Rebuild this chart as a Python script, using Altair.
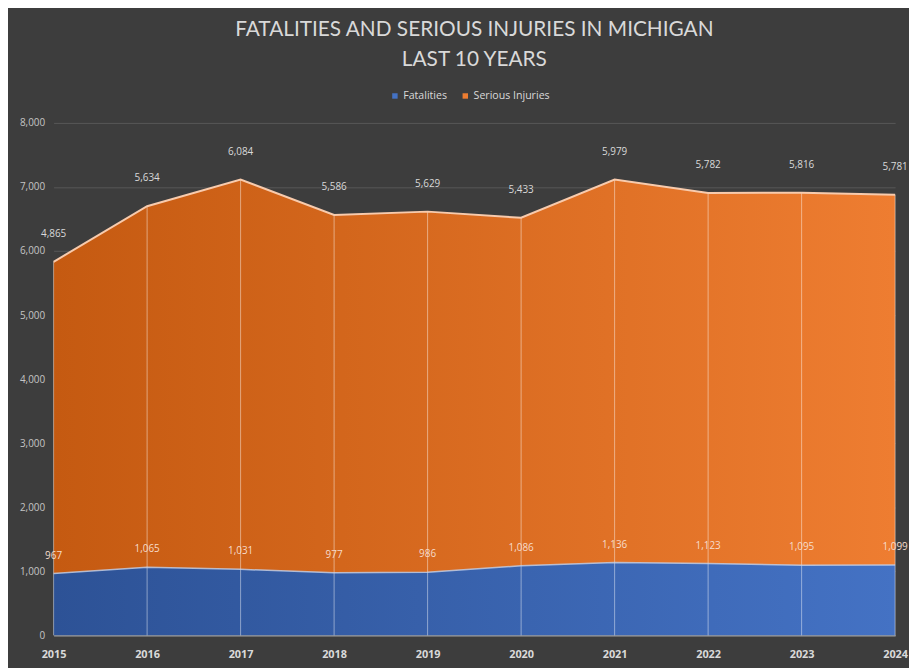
import altair as alt
import pandas as pd

years = [2015, 2016, 2017, 2018, 2019, 2020, 2021, 2022, 2023, 2024]
fatalities = [967, 1065, 1031, 977, 986, 1086, 1136, 1123, 1095, 1099]
serious_injuries = [4865, 5634, 6084, 5586, 5629, 5433, 5979, 5782, 5816, 5781]
y_ticks = [0, 1000, 2000, 3000, 4000, 5000, 6000, 7000, 8000]
series_names = ["Fatalities", "Serious Injuries"]

df = pd.DataFrame({"year": years, "Fatalities": fatalities, "Serious": serious_injuries})

blue_grad = alt.Gradient(
    gradient="linear",
    stops=[alt.GradientStop(color="#2d5296", offset=0), alt.GradientStop(color="#4472c4", offset=1)],
    x1=0, x2=1, y1=0, y2=0,
)
orange_grad = alt.Gradient(
    gradient="linear",
    stops=[alt.GradientStop(color="#c55a11", offset=0), alt.GradientStop(color="#ee7d31", offset=1)],
    x1=0, x2=1, y1=0, y2=0,
)

base = alt.Chart(df).transform_calculate(
    total="datum.Fatalities + datum.Serious", zero="0"
)

x_enc = alt.X(
    "year:Q",
    scale=alt.Scale(domain=[2015, 2024], nice=False, zero=False),
    axis=alt.Axis(
        title=None, values=years, labelExpr="'' + datum.value", labelFlush=False, labelOverlap=False,
        labelFontWeight="bold", labelFontSize=11, labelColor="#d9d9d9", labelFont="Open Sans",
        grid=False, ticks=False, domain=True, domainColor="#9a9a9a", domainWidth=1.5, labelPadding=13,
    ),
)
y_scale = alt.Scale(domain=[0, 8000], nice=False)
y_axis = alt.Axis(
    title=None, values=y_ticks, labelExpr="format(datum.value, ',')", labelFontSize=10,
    labelColor="#c4c4c4", labelFont="Open Sans", grid=True, gridColor="#585858", gridWidth=1,
    ticks=False, domain=False, labelPadding=9,
)

area_fat = base.mark_area(color=blue_grad).encode(
    x=x_enc, y=alt.Y("Fatalities:Q", scale=y_scale, axis=y_axis)
)
area_si = base.mark_area(color=orange_grad).encode(
    x="year:Q", y="total:Q", y2="Fatalities:Q"
)
rules = base.mark_rule(color="#ffffff", opacity=0.45, strokeWidth=1).encode(
    x="year:Q", y="zero:Q", y2="total:Q"
)
line_total = base.mark_line(color="#f8cbad", strokeWidth=2).encode(x="year:Q", y="total:Q")
line_fat = base.mark_line(color="#c5d3ee", strokeWidth=1.5, opacity=0.8).encode(x="year:Q", y="Fatalities:Q")

text_si = base.mark_text(dy=-28, fontSize=10, color="#d9d9d9", font="Open Sans").encode(
    x="year:Q", y="total:Q", text=alt.Text("Serious:Q", format=",")
)
text_fat = base.mark_text(dy=-18, fontSize=10, color="#f6dccb", font="Open Sans").encode(
    x="year:Q", y="Fatalities:Q", text=alt.Text("Fatalities:Q", format=",")
)

legend_df = pd.DataFrame({"series": series_names})
legend_layer = alt.Chart(legend_df).mark_square(opacity=0).encode(
    x=alt.value(0),
    y=alt.value(0),
    color=alt.Color(
        "series:N",
        scale=alt.Scale(domain=series_names, range=["#4472c4", "#ed7d31"]),
        legend=alt.Legend(
            title=None, orient="none", direction="horizontal", legendX=339, legendY=-33,
            symbolType="square", symbolSize=30, symbolOpacity=1, symbolStrokeWidth=0,
            labelFontSize=10.7, labelColor="#d9d9d9", labelFont="Open Sans", columnPadding=13,
            labelOffset=3,
        ),
    ),
)

chart = alt.layer(
    area_fat, area_si, rules, line_fat, line_total, text_fat, text_si, legend_layer
).properties(
    width=849,
    height=517,
    background="#3d3d3d",
    autosize=alt.AutoSizeParams(type="none"),
    padding={"left": 46, "top": 113, "right": 14, "bottom": 30},
    title=alt.Title(
        ["FATALITIES AND SERIOUS INJURIES IN MICHIGAN", "LAST 10 YEARS"],
        font="Lato", fontSize=21, fontWeight="normal", color="#d9d9d9",
        lineHeight=31, anchor="middle", offset=20,
    ),
).configure_view(stroke=None)

chart.save("out.html", embed_options={"renderer": "svg", "actions": False})
